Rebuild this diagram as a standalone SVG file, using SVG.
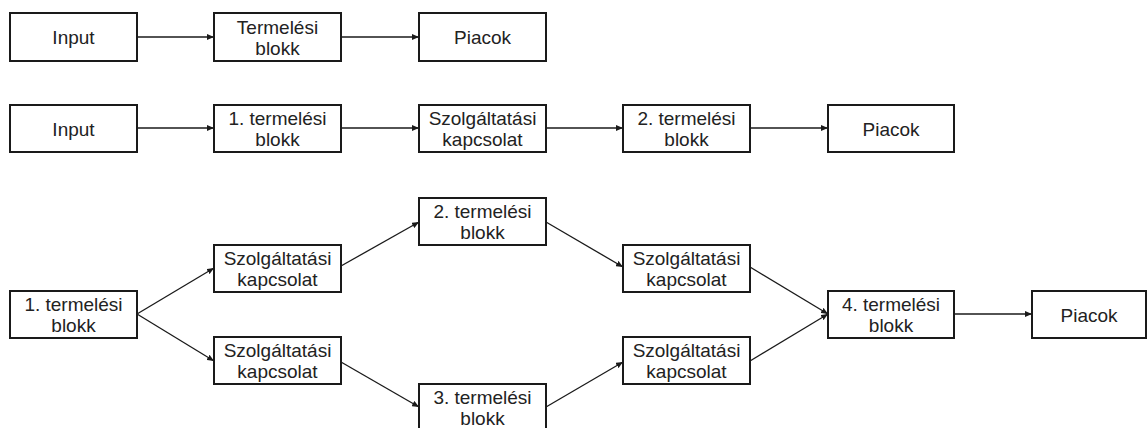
<svg xmlns="http://www.w3.org/2000/svg" width="1147" height="428" viewBox="0 0 1147 428">
<defs>
<style>
.box{fill:#fff;stroke:#1a1a1a;stroke-width:2}
.t{font-family:"Liberation Sans",Arial,sans-serif;font-size:19px;fill:#222;text-anchor:middle}
.c{stroke:#1a1a1a;stroke-width:1.3;fill:none;marker-end:url(#ah)}
</style>
<marker id="ah" markerUnits="userSpaceOnUse" markerWidth="7" markerHeight="6" refX="7" refY="3" orient="auto">
<path d="M0,0 L7,3 L0,6 z" fill="#1a1a1a"/>
</marker>
</defs>
<rect width="1147" height="428" fill="#fff"/>
<g id="connectors">
<line class="c" x1="137" y1="37" x2="214" y2="37"/>
<line class="c" x1="341" y1="37" x2="419" y2="37"/>
<line class="c" x1="137" y1="128" x2="214" y2="128"/>
<line class="c" x1="341" y1="128" x2="419" y2="128"/>
<line class="c" x1="546" y1="128" x2="623" y2="128"/>
<line class="c" x1="750" y1="128" x2="828" y2="128"/>
<line class="c" x1="137" y1="314" x2="214" y2="268"/>
<line class="c" x1="137" y1="314" x2="214" y2="361"/>
<line class="c" x1="341" y1="266" x2="419" y2="222"/>
<line class="c" x1="341" y1="362" x2="419" y2="407"/>
<line class="c" x1="546" y1="222" x2="623" y2="267"/>
<line class="c" x1="546" y1="407" x2="623" y2="362"/>
<line class="c" x1="750" y1="267" x2="828" y2="314"/>
<line class="c" x1="750" y1="361" x2="828" y2="314"/>
<line class="c" x1="954" y1="314" x2="1032" y2="314"/>
</g>
<g id="r1-input"><rect class="box" x="10" y="13" width="127" height="48"/><text class="t" x="73.5" y="44">Input</text></g>
<g id="r1-termelesi"><rect class="box" x="214" y="13" width="127" height="48"/><text class="t" x="277.5" y="33.5">Termelési</text><text class="t" x="277.5" y="54.5">blokk</text></g>
<g id="r1-piacok"><rect class="box" x="419" y="13" width="127" height="48"/><text class="t" x="482.5" y="44">Piacok</text></g>

<g id="r2-input"><rect class="box" x="10" y="105" width="127" height="47"/><text class="t" x="73.5" y="135.5">Input</text></g>
<g id="r2-term1"><rect class="box" x="214" y="105" width="127" height="47"/><text class="t" x="277.5" y="125">1. termelési</text><text class="t" x="277.5" y="146">blokk</text></g>
<g id="r2-szolg"><rect class="box" x="419" y="105" width="127" height="47"/><text class="t" x="482.5" y="125">Szolgáltatási</text><text class="t" x="482.5" y="146">kapcsolat</text></g>
<g id="r2-term2"><rect class="box" x="623" y="105" width="127" height="47"/><text class="t" x="686.5" y="125">2. termelési</text><text class="t" x="686.5" y="146">blokk</text></g>
<g id="r2-piacok"><rect class="box" x="828" y="105" width="126" height="47"/><text class="t" x="891" y="135.5">Piacok</text></g>

<g id="r3-term1"><rect class="box" x="10" y="291" width="127" height="47"/><text class="t" x="73.5" y="311">1. termelési</text><text class="t" x="73.5" y="332">blokk</text></g>
<g id="r3-szolg-a"><rect class="box" x="214" y="245" width="127" height="47"/><text class="t" x="277.5" y="265">Szolgáltatási</text><text class="t" x="277.5" y="286">kapcsolat</text></g>
<g id="r3-szolg-b"><rect class="box" x="214" y="337" width="127" height="47"/><text class="t" x="277.5" y="357">Szolgáltatási</text><text class="t" x="277.5" y="378">kapcsolat</text></g>
<g id="r3-term2"><rect class="box" x="419" y="198" width="127" height="47"/><text class="t" x="482.5" y="218">2. termelési</text><text class="t" x="482.5" y="239">blokk</text></g>
<g id="r3-term3"><rect class="box" x="419" y="384" width="127" height="47"/><text class="t" x="482.5" y="404">3. termelési</text><text class="t" x="482.5" y="425">blokk</text></g>
<g id="r3-szolg-c"><rect class="box" x="623" y="245" width="127" height="47"/><text class="t" x="686.5" y="265">Szolgáltatási</text><text class="t" x="686.5" y="286">kapcsolat</text></g>
<g id="r3-szolg-d"><rect class="box" x="623" y="337" width="127" height="47"/><text class="t" x="686.5" y="357">Szolgáltatási</text><text class="t" x="686.5" y="378">kapcsolat</text></g>
<g id="r3-term4"><rect class="box" x="828" y="291" width="126" height="47"/><text class="t" x="891" y="311">4. termelési</text><text class="t" x="891" y="332">blokk</text></g>
<g id="r3-piacok"><rect class="box" x="1032" y="291" width="114" height="47"/><text class="t" x="1089" y="321.5">Piacok</text></g>
</svg>
